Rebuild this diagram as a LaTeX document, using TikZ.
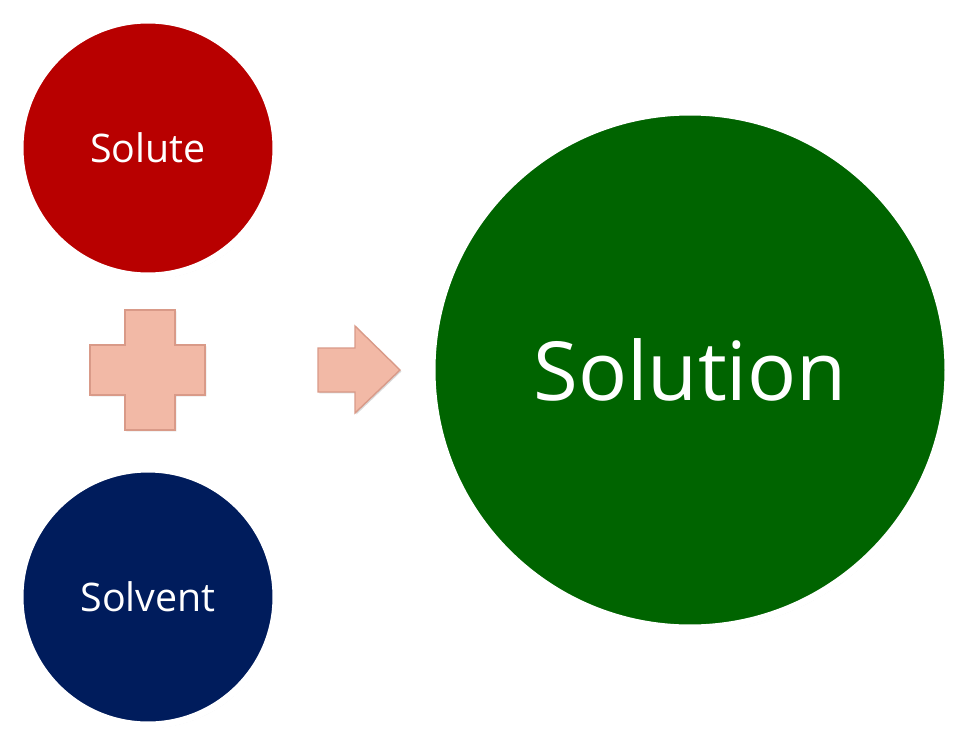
\documentclass[tikz,border=0pt]{standalone}
\usepackage{fontspec}
\setmainfont{Open Sans}
\usetikzlibrary{shadows}
\definecolor{redc}{HTML}{B80000}
\definecolor{bluec}{HTML}{001C5C}
\definecolor{greenc}{HTML}{006400}
\definecolor{peach}{HTML}{F2B9A6}
\definecolor{peachd}{HTML}{D99A88}
\tikzset{
 ball/.style={circle,draw=white,line width=5pt,text=white,drop shadow={shadow xshift=1pt,shadow yshift=-2pt,opacity=0.35}},
 shapeb/.style={fill=peach,draw=peachd,line width=1pt,drop shadow={shadow xshift=1pt,shadow yshift=-1pt,opacity=0.3}}
}
\begin{document}
\begin{tikzpicture}[x=0.25mm,y=-0.25mm]
\useasboundingbox (0,0) rectangle (968,747);
\node[ball,fill=redc,minimum size=64mm,font=\fontsize{28}{30}\selectfont] (solute) at (148,148) {Solute};
\node[ball,fill=bluec,minimum size=64mm,font=\fontsize{28}{30}\selectfont] (solvent) at (148,597) {Solvent};
\node[ball,fill=greenc,minimum size=129mm,font=\fontsize{58}{60}\selectfont] (solution) at (690,370) {Solution};
\path[shapeb] (125,310) -- (175,310) -- (175,345) -- (205,345) -- (205,395) -- (175,395) -- (175,430) -- (125,430) -- (125,395) -- (90,395) -- (90,345) -- (125,345) -- cycle;
\path[shapeb] (318,348) -- (355,348) -- (355,326) -- (400,370) -- (355,413) -- (355,392) -- (318,392) -- cycle;
\end{tikzpicture}
\end{document}
